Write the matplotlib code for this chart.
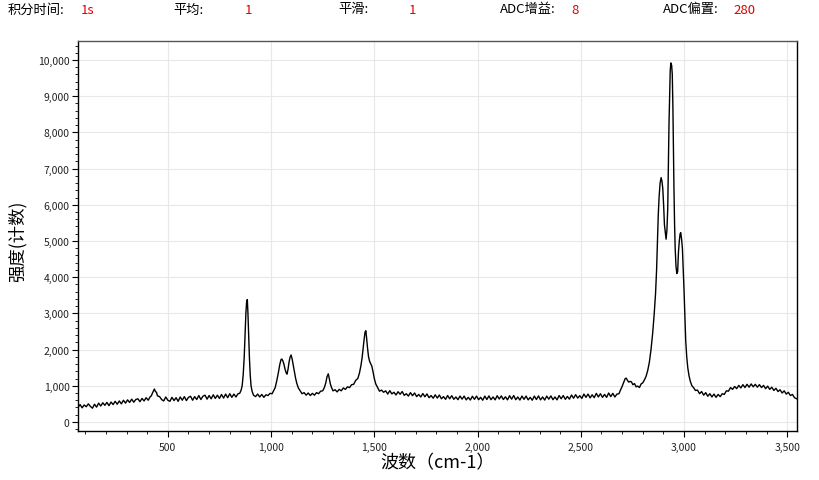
import matplotlib
matplotlib.use("Agg")
import matplotlib.pyplot as plt
from matplotlib.ticker import MultipleLocator, FuncFormatter

plt.rcParams['font.family'] = ['Noto Sans CJK SC', 'DejaVu Sans']

# ---- header values ----
header_labels = ["积分时间:", "平均:", "平滑:", "ADC增益:", "ADC偏置:"]
header_values = ["1s", "1", "1", "8", "280"]

# ---- spectrum data, by region ----
wn_low = [65, 75, 85, 95, 105, 115, 125, 135, 145, 155, 165, 175, 185, 195, 205, 215, 225, 235,
          245, 255, 265, 275, 285, 295, 305, 315, 325, 335, 345, 355, 365, 375, 385, 395, 405, 415,
          420, 425, 430, 435, 440, 445, 450, 460, 470]
int_low = [400, 480, 390, 470, 420, 500, 430, 380, 490, 410, 520, 440, 530, 460, 540, 450, 550, 480,
           570, 490, 580, 500, 600, 520, 610, 540, 630, 545, 620, 640, 560, 650, 580, 670, 600, 700,
           720, 790, 850, 910, 840, 820, 720, 700, 620]

wn_fp = [480, 490, 500, 510, 520, 530, 540, 550, 560, 570, 580, 590, 600, 610, 620, 630, 640, 650,
         660, 670, 680, 690, 700, 710, 720, 730, 740, 750, 760, 770, 780, 790, 800, 810, 820, 830,
         840, 848, 855, 860, 865, 870, 874, 878, 882, 885, 888, 891, 895, 899, 903, 908, 915, 925,
         935, 945, 955, 965, 975, 985, 995, 1005, 1012, 1020, 1028, 1035, 1042, 1048, 1052, 1057,
         1062, 1068, 1073, 1077, 1082, 1087, 1092, 1097, 1102, 1107, 1113, 1119, 1125, 1132, 1140,
         1150, 1160, 1170, 1180, 1190, 1200, 1210, 1220, 1230, 1240, 1250, 1258, 1265, 1271, 1277,
         1282, 1287, 1293, 1300, 1310, 1320, 1330, 1340, 1350, 1360, 1370, 1380, 1390, 1400, 1410,
         1420, 1428, 1435, 1441, 1446, 1451, 1455, 1459, 1463, 1467, 1472, 1477, 1483, 1488, 1494,
         1500, 1507, 1515, 1525, 1535, 1545]
int_fp = [580, 690, 600, 570, 680, 590, 670, 570, 690, 600, 700, 590, 680, 710, 600, 700, 620, 730,
          620, 710, 740, 630, 730, 640, 750, 650, 740, 650, 760, 660, 770, 670, 780, 680, 770, 690,
          780, 790, 880, 1000, 1300, 1800, 2400, 3000, 3350, 3380, 3000, 2500, 1800, 1300, 1000, 850,
          740, 700, 770, 690, 760, 680, 750, 730, 790, 780, 860, 950, 1150, 1350, 1580, 1720, 1740,
          1690, 1600, 1450, 1360, 1320, 1450, 1650, 1790, 1850, 1740, 1580, 1380, 1200, 1060, 940,
          870, 780, 810, 740, 800, 730, 790, 740, 810, 780, 850, 860, 950, 1080, 1250, 1330, 1200,
          1050, 950, 860, 890, 830, 900, 860, 940, 900, 970, 950, 1030, 1040, 1150, 1200, 1350, 1550,
          1780, 2050, 2300, 2480, 2520, 2300, 2050, 1800, 1680, 1600, 1540, 1380, 1200, 1050, 960,
          850, 880, 820]

wn_mid = [1555, 1565, 1575, 1585, 1595, 1605, 1615, 1625, 1635, 1645, 1655, 1665, 1675, 1685, 1695,
          1705, 1715, 1725, 1735, 1745, 1755, 1765, 1775, 1785, 1795, 1805, 1815, 1825, 1835, 1845,
          1855, 1865, 1875, 1885, 1895, 1905, 1915, 1925, 1935, 1945, 1955, 1965, 1975, 1985, 1995,
          2005, 2015, 2025, 2035, 2045, 2055, 2065, 2075, 2085, 2095, 2105, 2115, 2125, 2135, 2145,
          2155, 2165, 2175, 2185, 2195, 2205, 2215, 2225, 2235, 2245, 2255, 2265, 2275, 2285, 2295,
          2305, 2315, 2325, 2335, 2345, 2355, 2365, 2375, 2385, 2395, 2405, 2415, 2425, 2435, 2445,
          2455, 2465, 2475, 2485, 2495, 2505, 2515, 2525, 2535, 2545, 2555, 2565, 2575, 2585, 2595,
          2605, 2615, 2625, 2635, 2645, 2655, 2665, 2675]
int_mid = [860, 770, 865, 775, 820, 745, 835, 765, 840, 735, 780, 715, 810, 725, 800,
           700, 760, 690, 785, 695, 775, 670, 730, 655, 750, 660, 745, 640, 700, 625,
           730, 640, 725, 625, 690, 615, 715, 630, 715, 610, 680, 605, 710, 625, 715,
           615, 680, 600, 715, 620, 720, 615, 690, 610, 725, 635, 720, 620, 695, 610,
           725, 630, 730, 615, 690, 605, 715, 625, 715, 610, 680, 600, 715, 620, 720,
           610, 690, 605, 715, 630, 720, 615, 690, 610, 730, 640, 730, 625, 705, 630,
           745, 655, 755, 660, 725, 650, 770, 680, 770, 665, 750, 670, 790, 690, 780,
           680, 760, 680, 800, 700, 790, 690, 770]

wn_ch = [2685, 2692, 2700, 2708, 2715, 2720, 2726, 2732, 2738, 2745, 2752, 2760, 2768, 2776, 2784,
         2792, 2800, 2808, 2816, 2824, 2832, 2840, 2848, 2855, 2862, 2867, 2871, 2875, 2879, 2884,
         2889, 2893, 2897, 2901, 2905, 2909, 2913, 2917, 2921, 2924, 2927, 2930, 2933, 2936, 2940,
         2943, 2946, 2948, 2951, 2954, 2957, 2961, 2965, 2969, 2973, 2977, 2981, 2984, 2988, 2992,
         2996, 3000, 3004, 3008, 3013, 3018, 3024, 3030, 3038, 3046, 3055]
int_ch = [780, 880, 980, 1100, 1200, 1210, 1150, 1100, 1120, 1110, 1030, 1060, 970, 990, 950,
          1050, 1080, 1160, 1260, 1420, 1650, 2000, 2450, 2950, 3550, 4200, 5000, 5700, 6200, 6600,
          6750, 6650, 6450, 6000, 5450, 5250, 5050, 5300, 5900, 7000, 8200, 9000, 9700, 9920, 9850,
          9600, 8700, 7750, 6500, 5500, 4800, 4300, 4100, 4150, 4700, 5000, 5200, 5230, 5050, 4800,
          4200, 3620, 2900, 2250, 1800, 1500, 1280, 1130, 1000, 950, 870]

wn_high = [3065, 3075, 3085, 3095, 3105, 3115, 3125, 3135, 3145, 3155, 3165, 3175, 3185, 3195, 3205,
           3215, 3225, 3235, 3245, 3255, 3265, 3275, 3285, 3295, 3305, 3315, 3325, 3335, 3345, 3355,
           3365, 3375, 3385, 3395, 3405, 3415, 3425, 3435, 3445, 3455, 3465, 3475, 3485, 3495, 3505,
           3515, 3525, 3535, 3545]
int_high = [880, 780, 840, 740, 810, 710, 780, 690, 770, 680, 760, 700, 780, 760, 860,
            850, 950, 900, 980, 920, 1010, 940, 1030, 950, 1040, 960, 1050, 970, 1040, 960,
            1030, 950, 1010, 920, 990, 900, 960, 870, 930, 840, 890, 800, 860, 770, 820,
            730, 760, 670, 640]

wavenumber = wn_low + wn_fp + wn_mid + wn_ch + wn_high
intensity = int_low + int_fp + int_mid + int_ch + int_high

x_ticks = [500, 1000, 1500, 2000, 2500, 3000, 3500]
y_ticks = [0, 1000, 2000, 3000, 4000, 5000, 6000, 7000, 8000, 9000, 10000]

# ---- figure ----
fig = plt.figure(figsize=(8.19, 4.81), dpi=100)
ax = fig.add_axes([78 / 819, 1 - 432 / 481, (797 - 78) / 819, (432 - 42) / 481])

ax.plot(wavenumber, intensity, color='black', linewidth=1.0)

ax.set_xlim(65, 3547)
ax.set_ylim(-250, 10525)
ax.set_xticks(x_ticks)
ax.set_yticks(y_ticks)
ax.xaxis.set_minor_locator(MultipleLocator(100))
ax.yaxis.set_minor_locator(MultipleLocator(200))
fmt = FuncFormatter(lambda v, p: f"{int(v):,}")
ax.xaxis.set_major_formatter(fmt)
ax.yaxis.set_major_formatter(fmt)

ax.grid(True, which='major', color='#e8e8e8', linewidth=0.8)
ax.set_axisbelow(True)
for s in ax.spines.values():
    s.set_color('black')
    s.set_linewidth(1.0)
ax.spines['top'].set_color('#555555')
ax.tick_params(axis='both', which='major', direction='out', length=4, width=0.8,
               labelsize=7.5, colors='black', labelcolor='#222222')
ax.tick_params(axis='both', which='minor', direction='out', length=2, width=0.6)
ax.tick_params(axis='y', pad=2)
ax.tick_params(axis='x', pad=4)

ax.set_xlabel("波数（cm-1）", fontsize=13, labelpad=1)
ax.set_ylabel("强度(计数)", fontsize=12.5)
ax.yaxis.set_label_coords((27 - 78) / 719, 0.49)

# ---- header ----
label_x = [8, 173, 338, 500, 663]
value_x = [81, 245, 409, 571, 733]
for lab, val, lx, vx in zip(header_labels, header_values, label_x, value_x):
    fig.text(lx / 819, 1 - 10 / 481, lab, fontsize=9.5, color='black', va='center', ha='left')
    fig.text(vx / 819, 1 - 10 / 481, val, fontsize=9.5, color='#e00000', va='center', ha='left')

fig.savefig("out.png", dpi=100)
